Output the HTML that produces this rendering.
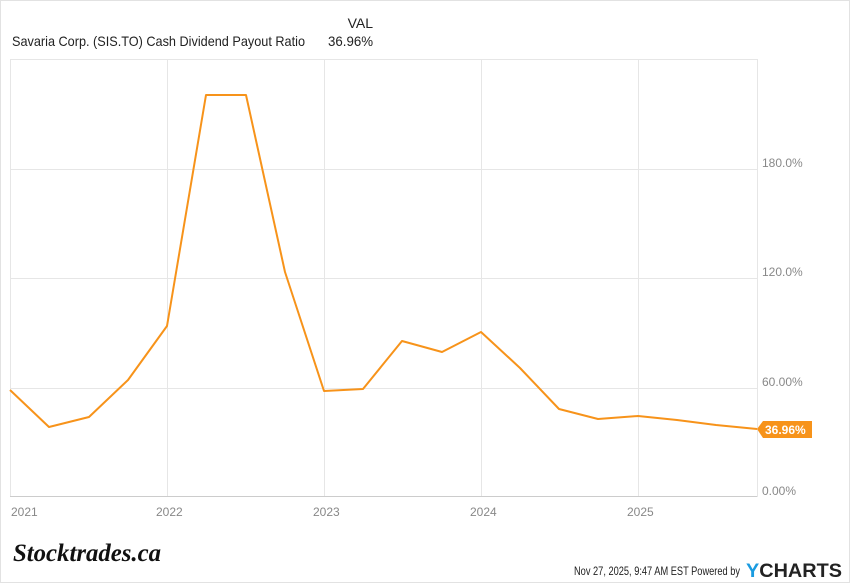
<!DOCTYPE html>
<html><head><meta charset="utf-8"><style>
html,body{margin:0;padding:0;background:#fff}
body{width:850px;height:583px;overflow:hidden;font-family:"Liberation Sans",sans-serif}
</style></head><body>
<svg width="850" height="583" xmlns="http://www.w3.org/2000/svg" font-family="Liberation Sans, sans-serif">
<rect x="0.5" y="0.5" width="849" height="582" fill="#fff" stroke="#e2e2e2"/>
<text x="12" y="46" font-size="14" fill="#222" textLength="293" lengthAdjust="spacingAndGlyphs">Savaria Corp. (SIS.TO) Cash Dividend Payout Ratio</text>
<text x="373" y="28" font-size="14" fill="#222" text-anchor="end">VAL</text>
<text x="373" y="46" font-size="14" fill="#222" text-anchor="end" textLength="45" lengthAdjust="spacingAndGlyphs">36.96%</text>
<g stroke="#e6e6e6" stroke-width="1" fill="none">
<rect x="10.5" y="59.5" width="747" height="437"/>
<line x1="167.5" y1="60" x2="167.5" y2="497"/>
<line x1="324.5" y1="60" x2="324.5" y2="497"/>
<line x1="481.5" y1="60" x2="481.5" y2="497"/>
<line x1="638.5" y1="60" x2="638.5" y2="497"/>
<line x1="10" y1="169.5" x2="757" y2="169.5"/>
<line x1="10" y1="278.5" x2="757" y2="278.5"/>
<line x1="10" y1="388.5" x2="757" y2="388.5"/>
</g>
<line x1="10" y1="496.5" x2="757" y2="496.5" stroke="#ccc"/>
<g font-size="12" fill="#888">
<text x="762" y="167">180.0%</text>
<text x="762" y="276">120.0%</text>
<text x="762" y="386">60.00%</text>
<text x="762" y="495">0.00%</text>
<text x="11" y="516">2021</text>
<text x="156" y="516">2022</text>
<text x="313" y="516">2023</text>
<text x="470" y="516">2024</text>
<text x="627" y="516">2025</text>
</g>
<polyline fill="none" stroke="#f7931a" stroke-width="2" stroke-linejoin="round" points="10,390 49,427 89,417 128,380 167,326 206,95 246,95 285,272 324,391 363,389 402,341 442,352 481,332 520,368 559,409 598,419 638,416 677,420 716,425 757,429"/>
<path d="M757,429 L763,421 L812,421 L812,438 L763,438 Z" fill="#f7931a"/>
<text x="765" y="434" font-size="12" font-weight="bold" fill="#fff">36.96%</text>
<text x="13" y="561" font-size="25" font-weight="bold" font-style="italic" fill="#111" font-family="Liberation Serif, serif" textLength="148" lengthAdjust="spacingAndGlyphs">Stocktrades.ca</text>
<text x="574" y="575" font-size="12" fill="#222" textLength="166" lengthAdjust="spacingAndGlyphs">Nov 27, 2025, 9:47 AM EST Powered by</text>
<text x="746" y="577" font-size="19" font-weight="bold" fill="#222" textLength="96" lengthAdjust="spacingAndGlyphs"><tspan fill="#1a9be0">Y</tspan>CHARTS</text>
</svg>
</body></html>
